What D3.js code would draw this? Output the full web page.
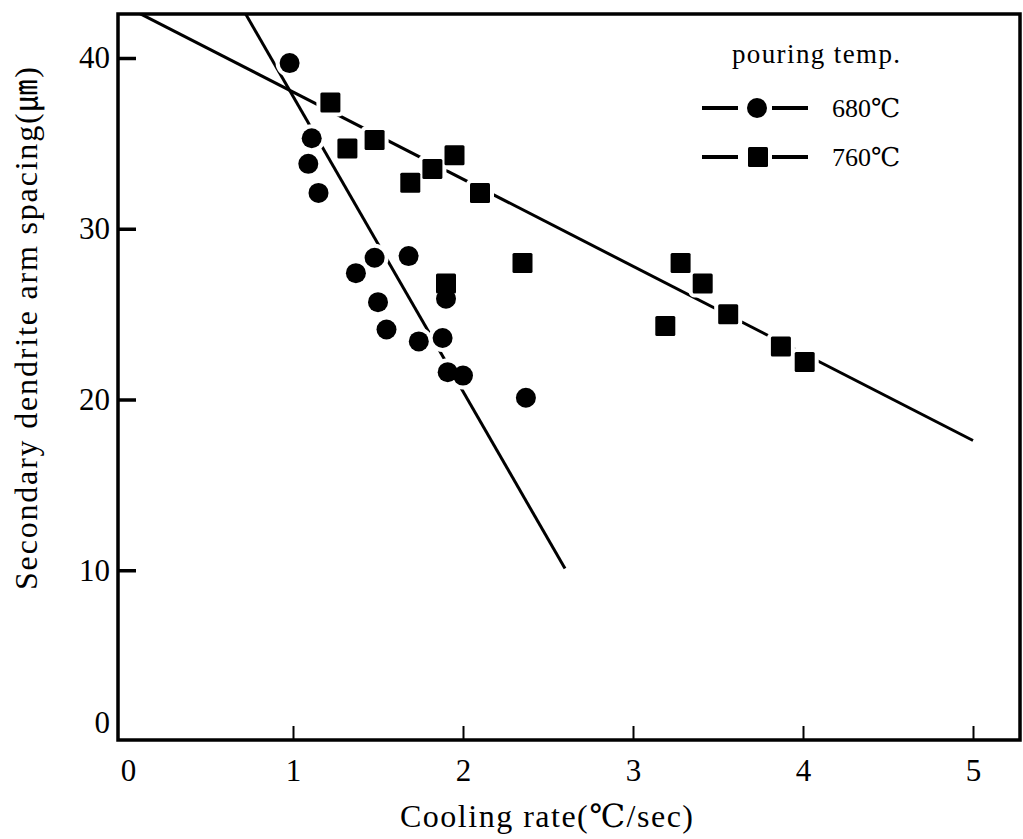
<!DOCTYPE html>
<html>
<head>
<meta charset="utf-8">
<script src="https://cdn.jsdelivr.net/npm/d3@7"></script>
<style>
  body { margin: 0; background: #fff; }
  svg text { font-family: "Liberation Serif", "DejaVu Serif", "Noto Sans CJK JP", serif; fill: #000; }
</style>
</head>
<body>
<svg width="1023" height="839"></svg>
<script>
// 680C pouring temp (circles)
var rate680 = [0.98, 1.11, 1.09, 1.15, 1.37, 1.48, 1.50, 1.55, 1.68, 1.74, 1.88, 1.90, 1.91, 2.00, 2.37]
var sdas680 = [39.7, 35.3, 33.8, 32.1, 27.4, 28.3, 25.7, 24.1, 28.4, 23.4, 23.6, 25.9, 21.6, 21.4, 20.1]

// 760C pouring temp (squares)
var rate760 = [1.22, 1.32, 1.48, 1.95, 1.82, 1.69, 2.10, 2.35, 1.90, 3.28, 3.41, 3.19, 3.56, 3.87, 4.01]
var sdas760 = [37.4, 34.7, 35.2, 34.3, 33.5, 32.7, 32.1, 28.0, 26.8, 28.0, 26.8, 24.3, 25.0, 23.1, 22.2]

// fitted lines, end points
var fit680 = [[0.72, 42.6], [2.60, 10.1]]
var fit760 = [[0.10, 42.6], [5.00, 17.6]]

var xTicks = [0, 1, 2, 3, 4, 5]
var yTicks = [0, 10, 20, 30, 40]

var svg = d3.select('svg')

var mapX = d3.scaleLinear().domain([0, 5]).range([123, 973])
var mapY = d3.scaleLinear().domain([0, 40]).range([741, 58])

var frameL = 118, frameR = 1020, frameT = 14, frameB = 740

svg.append('clipPath').attr('id', 'plot')
    .append('rect')
    .attr('x', frameL).attr('y', frameT)
    .attr('width', frameR - frameL).attr('height', frameB - frameT)

// axes
var axisY = d3.axisLeft(mapY)
    .tickValues(yTicks)
    .tickFormat(d3.format('d'))
    .tickSizeInner(-18)
    .tickSizeOuter(0)
    .tickPadding(8)

var gy = svg.append('g')
    .attr('transform', `translate(${frameL}, 0)`)
    .call(axisY)
gy.select('.domain').remove()
gy.selectAll('line').attr('stroke', '#000').attr('stroke-width', 3.5)
gy.selectAll('text').style('font-size', '31px')
gy.selectAll('.tick').filter(function(d){ return d === 0 }).select('line').remove()
gy.selectAll('.tick').filter(function(d){ return d === 0 }).select('text').attr('y', -18)

var axisX = d3.axisBottom(mapX)
    .tickValues(xTicks)
    .tickFormat(d3.format('d'))
    .tickSizeInner(-14)
    .tickSizeOuter(0)
    .tickPadding(19)

var gx = svg.append('g')
    .attr('transform', `translate(0, ${frameB})`)
    .call(axisX)
gx.select('.domain').remove()
gx.selectAll('line').attr('stroke', '#000').attr('stroke-width', 2)
gx.selectAll('text').style('font-size', '31px')
gx.selectAll('.tick').filter(function(d){ return d === 0 }).select('line').remove()
gx.selectAll('.tick').filter(function(d){ return d === 0 }).select('text').attr('x', 5)

// frame
svg.append('rect')
    .attr('x', frameL).attr('y', frameT)
    .attr('width', frameR - frameL).attr('height', frameB - frameT)
    .attr('fill', 'none')
    .attr('stroke', '#000')
    .attr('stroke-width', 3.5)

// fit lines
var line = d3.line()
    .x(function(d){ return mapX(d[0]) })
    .y(function(d){ return mapY(d[1]) })

svg.append('g').attr('clip-path', 'url(#plot)')
    .selectAll('path')
    .data([fit680, fit760])
    .enter()
    .append('path')
    .attr('d', line)
    .attr('fill', 'none')
    .attr('stroke', '#000')
    .attr('stroke-width', 3)

var pts680 = rate680.map(function(r, i){ return [r, sdas680[i]] })
var pts760 = rate760.map(function(r, i){ return [r, sdas760[i]] })

// white halo first so the lines break around markers
function drawMarkers(g, fill, stroke, sw){
    g.selectAll('rect')
        .data(pts760)
        .enter()
        .append('rect')
        .attr('x', function(d){ return mapX(d[0]) - 10 })
        .attr('y', function(d){ return mapY(d[1]) - 10 })
        .attr('width', 20)
        .attr('height', 20)
        .attr('rx', 1.5)
        .attr('fill', fill)
        .attr('stroke', stroke)
        .attr('stroke-width', sw)
    g.selectAll('circle')
        .data(pts680)
        .enter()
        .append('circle')
        .attr('cx', function(d){ return mapX(d[0]) })
        .attr('cy', function(d){ return mapY(d[1]) })
        .attr('r', 10)
        .attr('fill', fill)
        .attr('stroke', stroke)
        .attr('stroke-width', sw)
}
drawMarkers(svg.append('g'), '#fff', '#fff', 8)
drawMarkers(svg.append('g'), '#000', 'none', 0)

// legend
var legend = svg.append('g')
legend.append('text')
    .attr('x', 732).attr('y', 63)
    .attr('textLength', 168)
    .style('font-size', '27px')
    .text('pouring temp.')

var rows = [{y: 108, label: '680℃', shape: 'circle'}, {y: 157, label: '760℃', shape: 'square'}]
rows.forEach(function(r){
    legend.append('line').attr('x1', 702).attr('x2', 738).attr('y1', r.y).attr('y2', r.y)
        .attr('stroke', '#000').attr('stroke-width', 4)
    legend.append('line').attr('x1', 772).attr('x2', 808).attr('y1', r.y).attr('y2', r.y)
        .attr('stroke', '#000').attr('stroke-width', 4)
    if (r.shape === 'circle') {
        legend.append('circle').attr('cx', 757).attr('cy', r.y).attr('r', 10)
    } else {
        legend.append('rect').attr('x', 748).attr('y', r.y - 10).attr('width', 20).attr('height', 20).attr('rx', 1.5)
    }
    legend.append('text')
        .attr('x', 832).attr('y', r.y + 9)
        .style('font-size', '26px')
        .text(r.label)
})

// axis titles
svg.append('text')
    .attr('x', 400).attr('y', 827)
    .attr('textLength', 293)
    .style('font-size', '32px')
    .text('Cooling rate(℃/sec)')

svg.append('text')
    .attr('transform', 'translate(37, 590) rotate(-90)')
    .attr('textLength', 523)
    .style('font-size', '32px')
    .text('Secondary dendrite arm spacing(㎛)')
</script>
</body>
</html>
